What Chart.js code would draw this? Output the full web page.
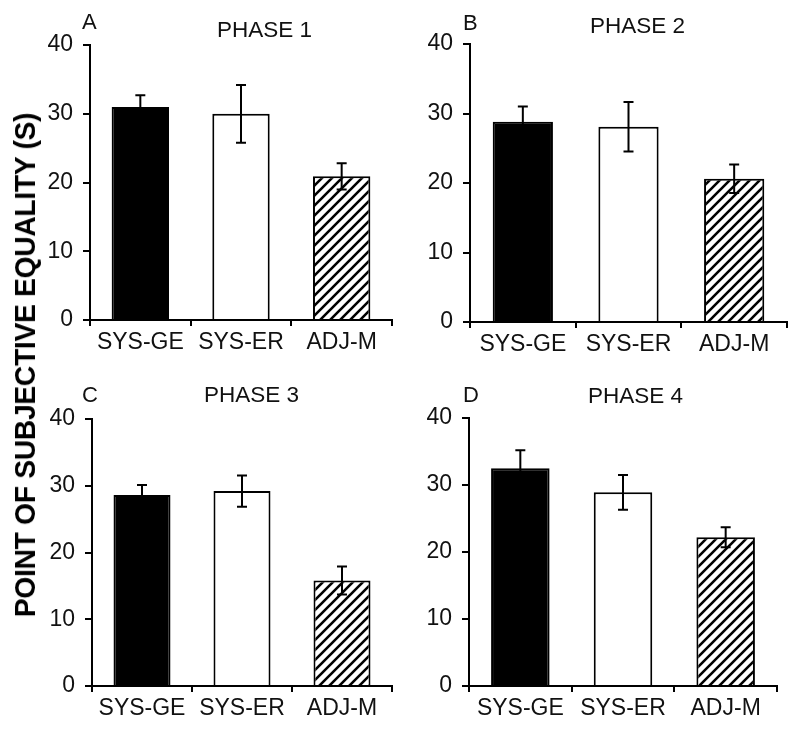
<!DOCTYPE html>
<html>
<head>
<meta charset="utf-8">
<script src="https://cdn.jsdelivr.net/npm/chart.js@4/dist/chart.umd.min.js"></script>
<style>
  body { margin: 0; background: #fff; }
  #wrap { position: relative; width: 800px; height: 734px; overflow: hidden; background: #fff; }
  canvas { position: absolute; }
  #ytitle {
    position: absolute; left: 25px; top: 365px;
    transform: translate(-50%, -50%) rotate(-90deg) scaleX(0.94);
    font: bold 30px "Liberation Sans", Arial, sans-serif;
    letter-spacing: -0.3px;
    white-space: nowrap; color: #000;
  }
</style>
</head>
<body>
<div id="wrap">
  <canvas id="cA" width="400" height="365" style="left:0;top:0"></canvas>
  <canvas id="cB" width="400" height="365" style="left:400px;top:0"></canvas>
  <canvas id="cC" width="400" height="369" style="left:0;top:365px"></canvas>
  <canvas id="cD" width="400" height="369" style="left:400px;top:365px"></canvas>
  <div id="ytitle">POINT OF SUBJECTIVE EQUALITY (S)</div>
</div>
<script>
var groups = ["SYS-GE", "SYS-ER", "ADJ-M"];
var yTicks = [0, 10, 20, 30, 40];

var phase1 = [31.0, 30.0, 20.9];
var phase1Err = [1.7, 4.2, 1.9];
var phase2 = [28.8, 28.1, 20.6];
var phase2Err = [2.2, 3.55, 2.05];
var phase3 = [28.6, 29.2, 15.8];
var phase3Err = [1.5, 2.35, 2.1];
var phase4 = [32.5, 28.9, 22.2];
var phase4Err = [2.7, 2.6, 1.5];

var FONT = '"Liberation Sans", Arial, sans-serif';

// hatch pattern for ADJ-M bars
function makeHatch() {
    var c = document.createElement("canvas");
    c.width = 10; c.height = 10;
    var g = c.getContext("2d");
    g.fillStyle = "#fff";
    g.fillRect(0, 0, 10, 10);
    g.strokeStyle = "#000";
    g.lineWidth = 2.6;
    g.beginPath();
    g.moveTo(-2, 12); g.lineTo(12, -2);
    g.moveTo(-7, 7); g.lineTo(7, -7);
    g.moveTo(3, 17); g.lineTo(17, 3);
    g.stroke();
    return c;
}

var errorBars = {
    id: "errorBars",
    afterDatasetsDraw: function(chart) {
        var ctx = chart.ctx;
        var ys = chart.scales.y;
        var ds = chart.data.datasets[0];
        var meta = chart.getDatasetMeta(0);
        ctx.save();
        ctx.strokeStyle = "#000";
        ctx.lineWidth = 2;
        meta.data.forEach(function(bar, i) {
            var v = ds.data[i], e = ds.err[i];
            var top = ys.getPixelForValue(v + e);
            var bot = ys.getPixelForValue(v - e);
            ctx.beginPath();
            ctx.moveTo(bar.x, top); ctx.lineTo(bar.x, bot);
            ctx.moveTo(bar.x - 5, top); ctx.lineTo(bar.x + 5, top);
            ctx.moveTo(bar.x - 5, bot); ctx.lineTo(bar.x + 5, bot);
            ctx.stroke();
        });
        ctx.restore();
    }
};

var panelText = {
    id: "panelText",
    afterDraw: function(chart, args, opts) {
        var ctx = chart.ctx;
        var a = chart.chartArea;
        ctx.save();
        ctx.fillStyle = "#111";
        ctx.textBaseline = "alphabetic";
        ctx.font = "22px " + FONT;
        ctx.fillText(opts.letter, a.left + opts.lx, a.top + opts.ly);
        ctx.font = "22.5px " + FONT;
        ctx.fillText(opts.title, a.left + opts.tx, a.top + opts.ty);
        ctx.restore();
    }
};

function makePanel(id, values, errs, letter, title, box) {
    var ctx = document.getElementById(id).getContext("2d");
    var hatch = ctx.createPattern(makeHatch(), "repeat");
    return new Chart(ctx, {
        type: "bar",
        data: {
            labels: groups,
            datasets: [{
                data: values,
                err: errs,
                backgroundColor: ["#000", "#fff", hatch],
                borderColor: "#000",
                borderWidth: 2,
                barPercentage: 0.57,
                categoryPercentage: 1.0
            }]
        },
        options: {
            responsive: false,
            animation: false,
            devicePixelRatio: 1,
            layout: { padding: { left: 0, right: box.right, top: box.top, bottom: 0 } },
            plugins: {
                legend: { display: false },
                tooltip: { enabled: false },
                panelText: { letter: letter, title: title, lx: box.lx, ly: box.ly, tx: box.tx, ty: box.ty }
            },
            scales: {
                x: {
                    grid: { offset: true, drawOnChartArea: false, drawTicks: true, tickLength: 6, color: "#000", lineWidth: 2 },
                    border: { color: "#000", width: 2 },
                    ticks: { color: "#111", font: { size: 23, family: FONT }, padding: 3, maxRotation: 0 },
                    afterFit: function(s) { s.height = box.xh; }
                },
                y: {
                    min: 0, max: 40,
                    afterBuildTicks: function(s) { s.ticks = yTicks.map(function(v) { return { value: v }; }); },
                    grid: { drawOnChartArea: false, drawTicks: true, tickLength: 7, color: "#000", lineWidth: 2 },
                    border: { color: "#000", width: 2 },
                    ticks: { color: "#111", font: { size: 23, family: FONT }, padding: 10 },
                    afterFit: function(s) { s.width = box.yw; }
                }
            }
        },
        plugins: [errorBars, panelText]
    });
}

makePanel("cA", phase1, phase1Err, "A", "PHASE 1",
    { yw: 90, right: 8, top: 45, xh: 45, lx: -8, ly: -16, tx: 127, ty: -8 });
makePanel("cB", phase2, phase2Err, "B", "PHASE 2",
    { yw: 70, right: 13, top: 44, xh: 43, lx: -7, ly: -14, tx: 120, ty: -11 });
makePanel("cC", phase3, phase3Err, "C", "PHASE 3",
    { yw: 92, right: 8, top: 54, xh: 48, lx: -10, ly: -17, tx: 112, ty: -17 });
makePanel("cD", phase4, phase4Err, "D", "PHASE 4",
    { yw: 69, right: 23, top: 53, xh: 48, lx: -6, ly: -16, tx: 119, ty: -15 });
</script>
</body>
</html>
